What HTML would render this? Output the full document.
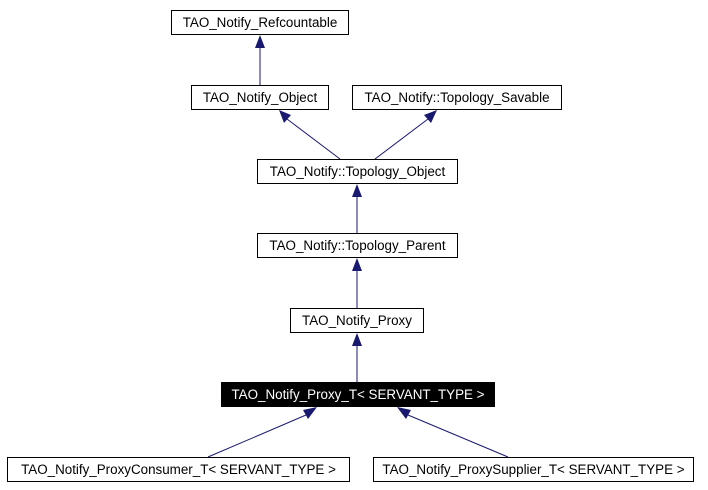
<!DOCTYPE html>
<html><head><style>
body{margin:0;background:#fff;width:708px;height:490px;position:relative;overflow:hidden;font-family:"Liberation Sans",Arial,sans-serif}
.b{position:absolute;border:1px solid #000;box-sizing:border-box;height:25px;font-size:13.4px;line-height:23px;text-align:center;background:#fff;color:#000;white-space:nowrap}
svg{position:absolute;left:0;top:0}
</style></head><body>
<svg width="708" height="490">
<g stroke="#191970" stroke-width="1" fill="none">
<line x1="260" y1="85" x2="260" y2="47"/>
<line x1="340" y1="159" x2="287" y2="119"/>
<line x1="375" y1="159" x2="428" y2="119"/>
<line x1="357" y1="233" x2="357" y2="195"/>
<line x1="357" y1="308" x2="357" y2="270"/>
<line x1="357" y1="382" x2="357" y2="344"/>
<line x1="208" y1="457" x2="306" y2="415"/>
<line x1="508" y1="457" x2="408" y2="415"/>
</g>
<g fill="#191970">
<polygon points="260,35 255,48 265,48"/>
<polygon points="279,110 284,123 291,115"/>
<polygon points="437,110 424,115 431,123"/>
<polygon points="357,184 352,197 362,197"/>
<polygon points="357,258 352,271 362,271"/>
<polygon points="357,333 352,346 362,346"/>
<polygon points="317,407 303,410 308,419"/>
<polygon points="397,407 406,419 411,410"/>
</g>
</svg>
<div class="b" style="left:171px;top:10px;width:178px">TAO_Notify_Refcountable</div>
<div class="b" style="left:191px;top:85px;width:138px">TAO_Notify_Object</div>
<div class="b" style="left:352px;top:85px;width:210px">TAO_Notify::Topology_Savable</div>
<div class="b" style="left:257px;top:159px;width:201px">TAO_Notify::Topology_Object</div>
<div class="b" style="left:257px;top:233px;width:201px">TAO_Notify::Topology_Parent</div>
<div class="b" style="left:290px;top:308px;width:134px">TAO_Notify_Proxy</div>
<div class="b" style="left:221px;top:382px;width:274px;background:#000;color:#fff">TAO_Notify_Proxy_T&lt; SERVANT_TYPE &gt;</div>
<div class="b" style="left:7px;top:457px;width:343px">TAO_Notify_ProxyConsumer_T&lt; SERVANT_TYPE &gt;</div>
<div class="b" style="left:373px;top:457px;width:321px">TAO_Notify_ProxySupplier_T&lt; SERVANT_TYPE &gt;</div>
</body></html>
